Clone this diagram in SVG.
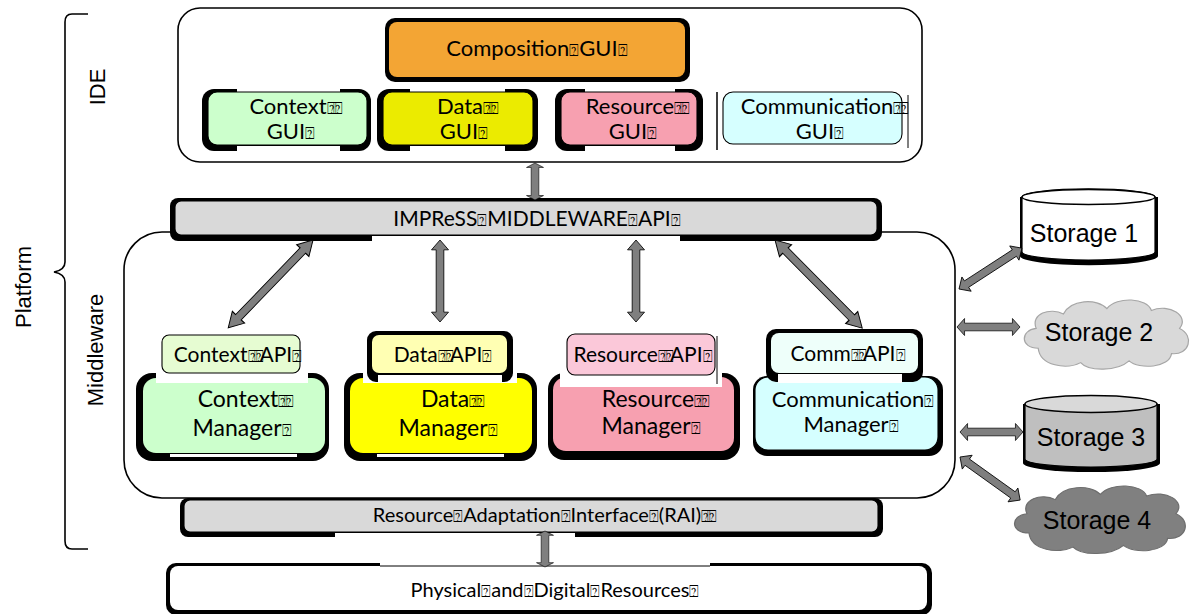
<svg xmlns="http://www.w3.org/2000/svg" width="1192" height="614" viewBox="0 0 1192 614">
  <defs>
    <style>
      .lbl { font-family: Lato, "DejaVu Sans", sans-serif; fill: #000; text-anchor: middle; }
      .ar { font-family: "Liberation Sans", Arial, sans-serif; fill: #000; text-anchor: middle; }
      .q { font-family: "DejaVu Sans", sans-serif; font-size: 16px; }
      .qq { font-family: "DejaVu Sans", sans-serif; font-size: 16px; letter-spacing: -4px; }
      .frame { fill: none; stroke: #000; stroke-width: 1.6; }
      .sh { fill: #000; }
      .wh { fill: #fff; }
      .thin { stroke: #000; stroke-width: 1.1; }
      .arrow { fill: #7f7f7f; stroke: #000; stroke-width: 1; stroke-linejoin: miter; }
    </style>
    <!-- double-headed block arrow, 100 units long along +x -->
    <polygon id="dbl" points="0,0 12,-10 12,-4.5 88,-4.5 88,-10 100,0 88,10 88,4.5 12,4.5 12,10"/>
  </defs>

  <!-- side labels and brace -->
  <g id="platform-brace">
    <path class="frame" d="M88,14 H72 Q65,14 65,22 V262 Q65,270 54,272 Q65,274 65,282 V541 Q65,549 72,549 H88"/>
    <text class="ar" font-size="22" transform="translate(31,287) rotate(-90)">Platform</text>
  </g>
  <g id="ide-label">
    <text class="ar" font-size="22" transform="translate(105,87) rotate(-90)">IDE</text>
  </g>
  <g id="middleware-label">
    <text class="ar" font-size="22" transform="translate(103,350) rotate(-90)">Middleware</text>
  </g>

  <!-- IDE container -->
  <g id="ide">
    <rect class="frame" x="178" y="8" width="744" height="154" rx="22"/>
  </g>

  <g id="composition-gui">
    <rect class="sh" x="385" y="18" width="305" height="64" rx="10"/>
    <rect x="389" y="22" width="296" height="55" rx="8" fill="#f3a534"/>
    <text class="lbl" x="537" y="56" font-size="22">Composition<tspan class="q">⍰</tspan>GUI<tspan class="q">⍰</tspan></text>
  </g>

  <g id="context-gui">
    <rect class="sh" x="202" y="89" width="169" height="62" rx="12"/>
    <rect class="wh" x="237" y="87" width="103" height="5"/>
    <rect class="wh" x="237" y="146" width="103" height="7"/>
    <rect x="208" y="92" width="159" height="53" rx="9" fill="#ccffcc" class="thin"/>
    <text class="lbl" x="294" y="114" font-size="22">Context<tspan class="qq">⍰⍰</tspan></text>
    <text class="lbl" x="291" y="139" font-size="22">GUI<tspan class="q">⍰</tspan></text>
  </g>

  <g id="data-gui">
    <rect class="sh" x="377" y="89" width="161" height="62" rx="12"/>
    <rect class="wh" x="410" y="87" width="95" height="5"/>
    <rect class="wh" x="410" y="146" width="95" height="7"/>
    <rect x="383" y="92" width="150" height="53" rx="9" fill="#ebeb00" class="thin"/>
    <text class="lbl" x="466" y="114" font-size="22">Data<tspan class="qq">⍰⍰</tspan></text>
    <text class="lbl" x="464" y="139" font-size="22">GUI<tspan class="q">⍰</tspan></text>
  </g>

  <g id="resource-gui">
    <rect class="sh" x="555" y="89" width="148" height="62" rx="12"/>
    <rect class="wh" x="585" y="87" width="90" height="5"/>
    <rect class="wh" x="585" y="146" width="90" height="7"/>
    <rect x="561" y="92" width="136" height="53" rx="9" fill="#f7a0b0" class="thin"/>
    <text class="lbl" x="636" y="114" font-size="22">Resource<tspan class="qq">⍰⍰</tspan></text>
    <text class="lbl" x="633" y="139" font-size="22">GUI<tspan class="q">⍰</tspan></text>
  </g>

  <g id="communication-gui">
    <line x1="717" y1="92" x2="717" y2="150" stroke="#000" stroke-width="1.5"/>
    <line x1="908" y1="95" x2="908" y2="148" stroke="#000" stroke-width="1"/>
    <rect x="723" y="92" width="179" height="52" rx="10" fill="#d6ffff" class="thin"/>
    <text class="lbl" x="823" y="114" font-size="22">Communication<tspan class="qq">⍰⍰</tspan></text>
    <text class="lbl" x="820" y="139" font-size="22">GUI<tspan class="q">⍰</tspan></text>
  </g>

  <!-- Middleware container -->
  <g id="middleware">
    <rect class="frame" x="124" y="232" width="831" height="266" rx="38"/>
  </g>

  <g id="impress-api">
    <rect class="sh" x="170" y="198" width="712" height="43" rx="8"/>
    <rect class="wh" x="372" y="236" width="308" height="7"/>
    <rect x="175" y="201" width="702" height="34" rx="6" fill="#d9d9d9" class="thin"/>
    <text class="lbl" x="537" y="226" font-size="21">IMPReSS<tspan class="q">⍰</tspan>MIDDLEWARE<tspan class="q">⍰</tspan>API<tspan class="q">⍰</tspan></text>
  </g>

  <!-- Managers -->
  <g id="context-manager">
    <rect class="sh" x="136" y="373" width="193" height="88" rx="16"/>
    <rect class="wh" x="170" y="454" width="127" height="3"/>
    <rect x="143" y="378" width="182" height="75" rx="13" fill="#ccffcc"/>
    <text class="lbl" x="244" y="407" font-size="23">Context<tspan class="qq">⍰⍰</tspan></text>
    <text class="lbl" x="242" y="436" font-size="23">Manager<tspan class="q">⍰</tspan></text>
  </g>
  <g id="context-api">
    <rect class="wh" x="156" y="342" width="152" height="41"/>
    <rect x="162" y="335" width="138" height="38" rx="7" fill="#e6fcd2" class="thin"/>
    <text class="lbl" x="238" y="362" font-size="21">Context<tspan class="qq">⍰⍰</tspan>API<tspan class="q">⍰</tspan></text>
  </g>

  <g id="data-manager">
    <rect class="sh" x="344" y="373" width="193" height="88" rx="16"/>
    <rect class="wh" x="377" y="454" width="127" height="3"/>
    <rect x="350" y="378" width="182" height="75" rx="13" fill="#ffff00"/>
    <text class="lbl" x="451" y="407" font-size="23">Data<tspan class="qq">⍰⍰</tspan></text>
    <text class="lbl" x="448" y="436" font-size="23">Manager<tspan class="q">⍰</tspan></text>
  </g>
  <g id="data-api">
    <rect class="wh" x="363" y="372" width="154" height="11"/>
    <rect class="sh" x="367" y="331" width="146" height="51" rx="9"/>
    <rect class="wh" x="378" y="375" width="124" height="8"/>
    <rect x="372" y="335" width="135" height="38" rx="7" fill="#ffffb3"/>
    <text class="lbl" x="443" y="362" font-size="21">Data<tspan class="qq">⍰⍰</tspan>API<tspan class="q">⍰</tspan></text>
  </g>

  <g id="resource-manager">
    <rect class="sh" x="548" y="373" width="192" height="87" rx="16"/>
    <rect x="553" y="377" width="181" height="74" rx="13" fill="#f7a0b0"/>
    <text class="lbl" x="654" y="407" font-size="23">Resource<tspan class="qq">⍰⍰</tspan></text>
    <text class="lbl" x="651" y="434" font-size="23">Manager<tspan class="q">⍰</tspan></text>
  </g>
  <g id="resource-api">
    <rect class="wh" x="560" y="340" width="162" height="47"/>
    <line x1="717" y1="336" x2="717" y2="384" stroke="#000" stroke-width="1"/>
    <rect x="567" y="334" width="148" height="41" rx="8" fill="#fbc8d9" class="thin"/>
    <text class="lbl" x="643" y="362" font-size="21">Resource<tspan class="qq">⍰⍰</tspan>API<tspan class="q">⍰</tspan></text>
  </g>

  <g id="communication-manager">
    <rect class="sh" x="753" y="376" width="190" height="80" rx="14"/>
    <rect x="755" y="377" width="183" height="73" rx="13" fill="#d5ffff" class="thin"/>
    <text class="lbl" x="853" y="407" font-size="22">Communication<tspan class="q">⍰</tspan></text>
    <text class="lbl" x="851" y="432" font-size="22">Manager<tspan class="q">⍰</tspan></text>
  </g>
  <g id="communication-api">
    <rect class="wh" x="770" y="372" width="150" height="8"/>
    <rect class="sh" x="766" y="329" width="157" height="53" rx="10"/>
    <rect class="wh" x="778" y="374" width="124" height="9"/>
    <rect x="771" y="333" width="147" height="40" rx="8" fill="#eefffa"/>
    <text class="lbl" x="848" y="361" font-size="21">Comm<tspan class="qq">⍰⍰</tspan>API<tspan class="q">⍰</tspan></text>
  </g>

  <!-- Resource Adaptation Interface -->
  <g id="rai">
    <rect class="sh" x="180" y="498" width="703" height="39" rx="8"/>
    <rect class="wh" x="335" y="533" width="240" height="6"/>
    <rect x="184" y="500" width="694" height="32" rx="6" fill="#d9d9d9" class="thin"/>
    <text class="lbl" x="543" y="522" font-size="20">Resource<tspan class="q">⍰</tspan>Adaptation<tspan class="q">⍰</tspan>Interface<tspan class="q">⍰</tspan>(RAI)<tspan class="qq">⍰⍰</tspan></text>
  </g>

  <!-- Physical and digital resources -->
  <g id="physical-resources">
    <rect class="sh" x="166" y="563" width="766" height="52" rx="10"/>
    <rect x="170" y="566" width="757" height="44" rx="8" fill="#fff"/>
    <rect class="wh" x="380" y="563" width="330" height="4"/>
    <line x1="380" y1="566" x2="710" y2="566" stroke="#000" stroke-width="1"/>
    <text class="lbl" x="555" y="597" font-size="20">Physical<tspan class="q">⍰</tspan>and<tspan class="q">⍰</tspan>Digital<tspan class="q">⍰</tspan>Resources<tspan class="q">⍰</tspan></text>
  </g>

  <!-- Storage -->
  <g id="storage-1">
    <path class="sh" d="M1020,197 V256 A67,9 0 0 0 1158,256 V197 Z"/>
    <path d="M1022,197 V252 A66,8 0 0 0 1155,252 V197 A66,8 0 0 0 1022,197 Z" fill="#fff" stroke="#000" stroke-width="1.2"/>
    <ellipse cx="1088.5" cy="197" rx="66.5" ry="7.5" fill="#fff" stroke="#000" stroke-width="1.5"/>
    <text class="ar" x="1084" y="242" font-size="25">Storage 1</text>
  </g>
  <g id="storage-2">
    <path transform="translate(1018,296) scale(1.01,0.9)" d="M20,58 C2,58 2,38 18,36 C12,20 32,12 45,20 C52,4 78,2 88,14 C98,0 128,2 132,16 C150,8 170,22 160,36 C175,44 170,66 152,64 C150,80 120,82 110,72 C98,84 70,84 62,74 C48,82 22,78 20,58 Z" fill="#d9d9d9" stroke="#a6a6a6" stroke-width="1.2"/>
    <text class="ar" x="1099" y="341" font-size="25">Storage 2</text>
  </g>
  <g id="storage-3">
    <path class="sh" d="M1023,404 V463 A68,9 0 0 0 1160,463 V404 Z"/>
    <path d="M1025,404 V459 A66,8 0 0 0 1157,459 V404 Z" fill="#bfbfbf" stroke="#000" stroke-width="1.2"/>
    <ellipse cx="1091" cy="404" rx="66" ry="8.5" fill="#d9d9d9" stroke="#000" stroke-width="1.5"/>
    <text class="ar" x="1091" y="446" font-size="25">Storage 3</text>
  </g>
  <g id="storage-4">
    <path transform="translate(1008,482) scale(1.05,0.88)" d="M20,58 C2,58 2,38 18,36 C12,20 32,12 45,20 C52,4 78,2 88,14 C98,0 128,2 132,16 C150,8 170,22 160,36 C175,44 170,66 152,64 C150,80 120,82 110,72 C98,84 70,84 62,74 C48,82 22,78 20,58 Z" fill="#808080" stroke="#6e6e6e" stroke-width="1.2"/>
    <text class="ar" x="1097" y="529" font-size="25">Storage 4</text>
  </g>

  <!-- connectors -->
  <g id="connectors">
    <use href="#dbl" class="arrow" transform="translate(535,163) rotate(90) scale(0.37,0.85)"/>
    <use href="#dbl" class="arrow" transform="translate(313,240) rotate(134) scale(1.22,0.85)"/>
    <use href="#dbl" class="arrow" transform="translate(440,240) rotate(90) scale(0.82,0.85)"/>
    <use href="#dbl" class="arrow" transform="translate(636,240) rotate(90) scale(0.82,0.85)"/>
    <use href="#dbl" class="arrow" transform="translate(775,240) rotate(45.3) scale(1.24,0.85)"/>
    <use href="#dbl" class="arrow" transform="translate(545,531) rotate(90) scale(0.36,0.85)"/>
    <use href="#dbl" class="arrow" transform="translate(959,289) rotate(-33) scale(0.75,0.85)"/>
    <use href="#dbl" class="arrow" transform="translate(957,327) scale(0.63,0.85)"/>
    <use href="#dbl" class="arrow" transform="translate(960,432) scale(0.63,0.85)"/>
    <use href="#dbl" class="arrow" transform="translate(960,457) rotate(35.6) scale(0.74,0.85)"/>
  </g>
</svg>
